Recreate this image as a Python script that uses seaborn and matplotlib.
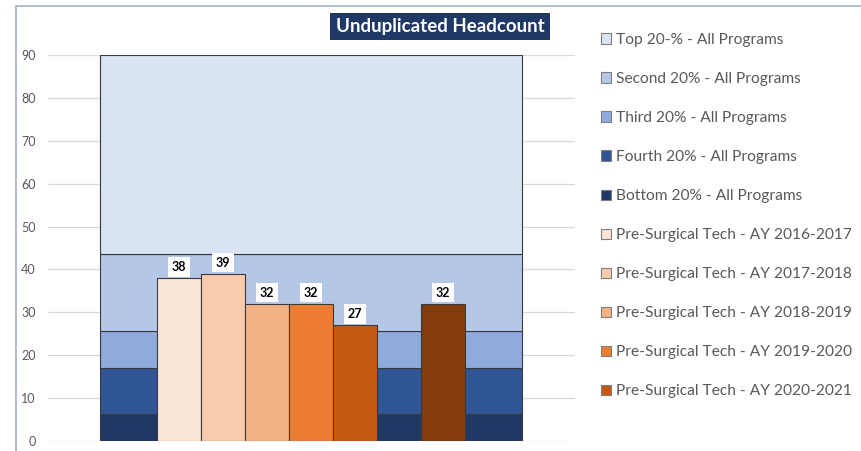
import matplotlib
matplotlib.use("Agg")
import matplotlib.pyplot as plt
import seaborn as sns
import pandas as pd
import numpy as np
from matplotlib.patches import Patch
from matplotlib.lines import Line2D

# quintile bands (upper bound of each band, all programs)
band_names = ["Bottom 20% - All Programs", "Fourth 20% - All Programs", "Third 20% - All Programs",
              "Second 20% - All Programs", "Top 20-% - All Programs"]
band_tops = [6.2, 17.1, 25.7, 43.7, 90]
band_colors = ["#203864", "#2F5597", "#8FAADC", "#B4C7E7", "#DAE3F3"]

# program headcount per year (slot 6 is empty)
slots = ["AY 2016-2017", "AY 2017-2018", "AY 2018-2019", "AY 2019-2020", "AY 2020-2021", "gap", "AY 2021-2022"]
headcount = [38, 39, 32, 32, 27, np.nan, 32]
bar_colors = ["#FBE5D6", "#F8CBAD", "#F4B183", "#ED7D31", "#C55A11", "#FFFFFF", "#843C0C"]
legend_years = ["AY 2016-2017", "AY 2017-2018", "AY 2018-2019", "AY 2019-2020", "AY 2020-2021"]

sns.set_style("white")
plt.rcParams["font.family"] = ["Lato", "DejaVu Sans"]

fig = plt.figure(figsize=(8.61, 4.51), dpi=100)
ax = fig.add_axes([48 / 861, 1 - 441 / 451, (575 - 48) / 861, (441 - 55) / 451])

# gridlines
for v in range(0, 100, 10):
    ax.axhline(v, color="#D9D9D9", lw=0.9, zorder=0)

# background bands: one wide stacked bar
bottom = 0
for top, col in zip(band_tops, band_colors):
    ax.bar(3, top - bottom, bottom=bottom, width=9.59, color=col,
           edgecolor="#3A3A3A", linewidth=0.8, zorder=1)
    bottom = top

df = pd.DataFrame({"slot": slots, "value": headcount})
sns.barplot(data=df, x="slot", y="value", hue="slot", order=slots, palette=bar_colors,
            saturation=1, width=1.0, edgecolor="#3A3A3A", linewidth=0.8, legend=False, ax=ax)
for p in ax.patches[len(band_tops):]:
    p.set_zorder(2)

for i, v in enumerate(headcount):
    if np.isnan(v):
        continue
    ax.text(i, v + 2.6, f"{int(v)}", ha="center", va="center", fontsize=9, fontweight="bold",
            color="black", zorder=4,
            bbox=dict(boxstyle="square,pad=0.3", fc="white", ec="none"))

ax.set_xlim(-2.977, 9.0)
ax.set_ylim(0, 90)
ax.set_yticks(range(0, 100, 10))
ax.set_xticks([])
ax.set_xlabel("")
ax.set_ylabel("")
ax.tick_params(axis="y", length=0, pad=9, labelsize=9, labelcolor="#595959")
for s in ax.spines.values():
    s.set_visible(False)

# title box
fig.text(440 / 861, 1 - 26.5 / 451, "Unduplicated Headcount", ha="center", va="center",
         fontsize=13.5, fontweight="bold", color="white",
         bbox=dict(boxstyle="square,pad=0.28", fc="#203864", ec="none"))

# legend
handles = [Patch(facecolor=c, edgecolor="#7F7F7F", linewidth=0.8) for c in band_colors[::-1]]
labels = band_names[::-1]
handles += [Patch(facecolor=c, edgecolor="#7F7F7F", linewidth=0.8) for c in bar_colors[:5]]
labels += [f"Pre-Surgical Tech - {y}" for y in legend_years]
fig.legend(handles, labels, loc="upper left", bbox_to_anchor=(601 / 861, 1 - 33 / 451),
           frameon=False, fontsize=11.2, labelcolor="#595959", handlelength=0.65, handleheight=0.65,
           handletextpad=0.3, labelspacing=1.61, borderpad=0, borderaxespad=0)

# chart frame
fig.add_artist(Line2D([16 / 861, 1], [1 - 6 / 451] * 2, color="#A6B2C8", lw=1.2))
fig.add_artist(Line2D([16 / 861] * 2, [0, 1 - 6 / 451], color="#A6B2C8", lw=1.2))

fig.savefig("out.png", dpi=100)
